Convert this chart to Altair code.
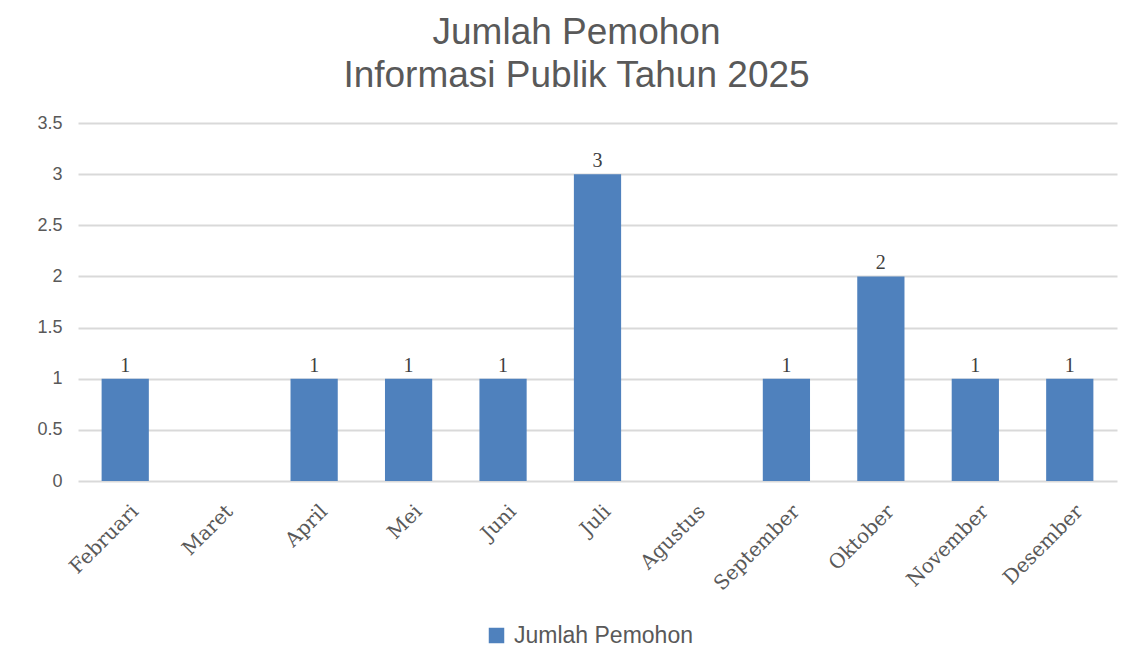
import altair as alt
import pandas as pd

months = ["Februari", "Maret", "April", "Mei", "Juni", "Juli", "Agustus",
          "September", "Oktober", "November", "Desember"]
values = [1, None, 1, 1, 1, 3, None, 1, 2, 1, 1]
series = "Jumlah Pemohon"

df = pd.DataFrame({"bulan": months, "jumlah": values, "seri": [series] * len(months)})

x = alt.X("bulan:N", sort=months, title=None,
          scale=alt.Scale(paddingInner=0.5, paddingOuter=0.25),
          axis=alt.Axis(labelAngle=-45, labelAlign="right", labelBaseline="top",
                        labelFont="DejaVu Serif", labelFontSize=20,
                        labelColor="#595959", ticks=False, domain=False,
                        labelPadding=20, labelOffset=3))
y = alt.Y("jumlah:Q", title=None,
          scale=alt.Scale(domain=[0, 3.5]),
          axis=alt.Axis(values=[0, 0.5, 1, 1.5, 2, 2.5, 3, 3.5], format="~g",
                        labelFont="Liberation Sans", labelFontSize=18,
                        labelColor="#595959", ticks=False, domain=False,
                        labelPadding=16, gridColor="#d9d9d9", gridWidth=2))

bars = alt.Chart(df).mark_bar(color="#4F81BD").encode(
    x=x, y=y,
    color=alt.Color("seri:N", scale=alt.Scale(range=["#4F81BD"]),
                    legend=alt.Legend(title=None, orient="none", legendX=407, legendY=501,
                                      symbolType="square", symbolSize=240,
                                      symbolStrokeWidth=0, labelOffset=6, labelLimit=400,
                                      labelFont="Liberation Sans", labelFontSize=23,
                                      labelColor="#595959")),
)
labels = alt.Chart(df).mark_text(baseline="bottom", dy=-3, font="Liberation Serif",
                                 fontSize=20, color="#404040").encode(
    x=alt.X("bulan:N", sort=months), y="jumlah:Q", text="jumlah:Q")

chart = (bars + labels).properties(
    width=1039, height=358,
    autosize=alt.AutoSizeParams(type="none"),
    padding={"left": 70, "top": 115, "right": 9, "bottom": 177},
    title=alt.TitleParams(["Jumlah Pemohon", "Informasi Publik Tahun 2025"],
                          font="Liberation Sans", fontSize=37, fontWeight="normal",
                          color="#595959", anchor="middle", lineHeight=43, offset=19,
                          dx=-21),
).configure_view(stroke=None)

chart.save("out.html", embed_options={"renderer": "svg", "actions": False})
